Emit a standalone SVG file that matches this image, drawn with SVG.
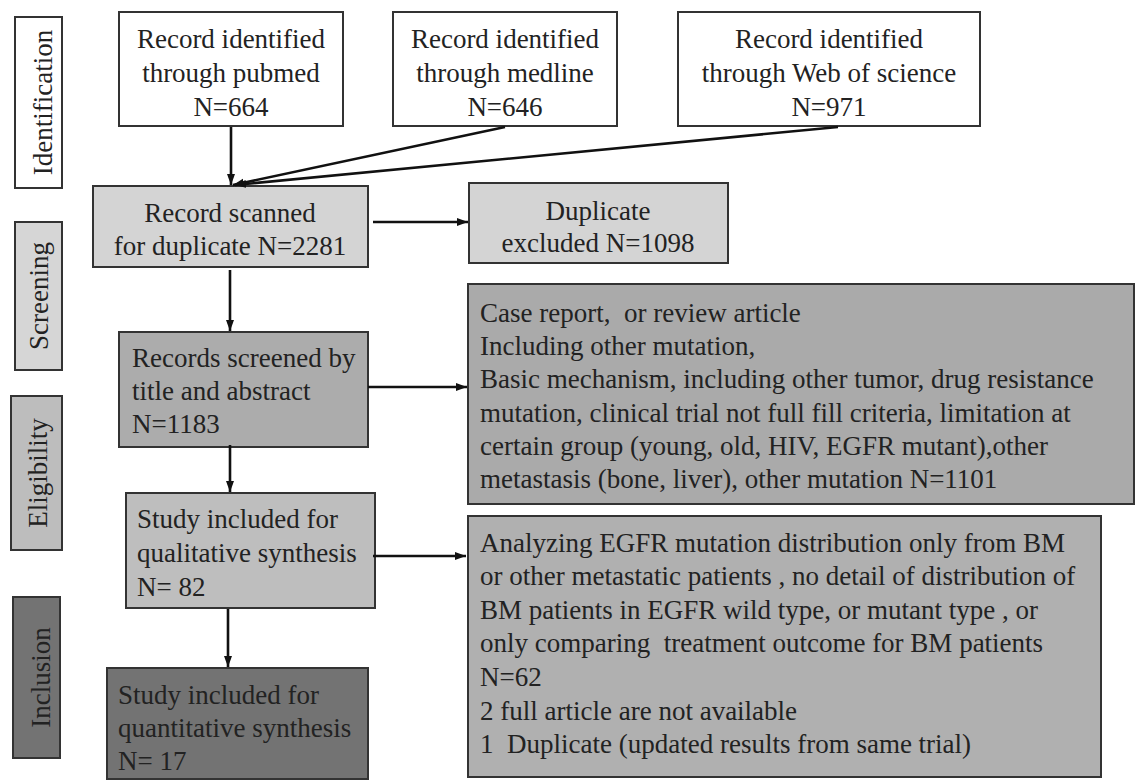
<svg xmlns="http://www.w3.org/2000/svg" width="1136" height="780" viewBox="0 0 1136 780" font-family="'Liberation Serif', serif">
<defs>
<style>
text{font-family:'Liberation Serif',serif}
.box{stroke:#333;stroke-width:2}
.t{font-size:27px;fill:#222}
.c{text-anchor:middle}
.conn{stroke:#111;stroke-width:2.6;fill:none;marker-end:url(#ah)}
</style>
<marker id="ah" markerWidth="12" markerHeight="10" refX="11" refY="5" orient="auto" markerUnits="userSpaceOnUse">
<path d="M0,1 L11,5 L0,9 Z" fill="#111"/>
</marker>
</defs>
<rect width="1136" height="780" fill="#fff"/>

<g id="label-identification">
<rect class="box" x="15" y="17" width="47" height="171" fill="#fff"/>
<text class="t c" transform="translate(52,102.5) rotate(-90)">Identification</text>
</g>
<g id="label-screening">
<rect class="box" x="15" y="222" width="47" height="148" fill="#d6d6d6"/>
<text class="t c" transform="translate(48,296) rotate(-90)">Screening</text>
</g>
<g id="label-eligibility">
<rect class="box" x="11" y="396" width="51" height="154" fill="#bdbdbd"/>
<text class="t c" transform="translate(47,473) rotate(-90)">Eligibility</text>
</g>
<g id="label-inclusion">
<rect class="box" x="13" y="597" width="47" height="161" fill="#737373"/>
<text class="t c" transform="translate(50,677.5) rotate(-90)">Inclusion</text>
</g>

<g id="node-pubmed">
<rect class="box" x="119" y="12" width="224" height="114" fill="#fff"/>
<text class="t c" x="231" y="48">Record identified</text>
<text class="t c" x="231" y="82">through pubmed</text>
<text class="t c" x="231" y="116">N=664</text>
</g>
<g id="node-medline">
<rect class="box" x="393" y="12" width="224" height="114" fill="#fff"/>
<text class="t c" x="505" y="48">Record identified</text>
<text class="t c" x="505" y="82">through medline</text>
<text class="t c" x="505" y="116">N=646</text>
</g>
<g id="node-wos">
<rect class="box" x="678" y="12" width="302" height="114" fill="#fff"/>
<text class="t c" x="829" y="48">Record identified</text>
<text class="t c" x="829" y="82">through Web of science</text>
<text class="t c" x="829" y="116">N=971</text>
</g>
<g id="node-scanned">
<rect class="box" x="93" y="186" width="275" height="81" fill="#d4d4d4"/>
<text class="t c" x="230" y="222">Record scanned</text>
<text class="t c" x="230" y="255">for duplicate N=2281</text>
</g>
<g id="node-duplicate">
<rect class="box" x="469" y="183" width="259" height="80" fill="#d4d4d4"/>
<text class="t c" x="598" y="220">Duplicate</text>
<text class="t c" x="598" y="252">excluded N=1098</text>
</g>
<g id="node-screened">
<rect class="box" x="119" y="332" width="249" height="115" fill="#acacac"/>
<text class="t" x="132" y="367">Records screened by</text>
<text class="t" x="132" y="400">title and abstract</text>
<text class="t" x="132" y="433">N=1183</text>
</g>
<g id="node-excluded1">
<rect class="box" x="468" y="284" width="666" height="220" fill="#aaaaaa"/>
<text class="t" x="480" y="322" xml:space="preserve">Case report,  or review article</text>
<text class="t" x="480" y="355">Including other mutation,</text>
<text class="t" x="480" y="388">Basic mechanism, including other tumor, drug resistance</text>
<text class="t" x="480" y="422">mutation, clinical trial not full fill criteria, limitation at</text>
<text class="t" x="480" y="455">certain group (young, old, HIV, EGFR mutant),other</text>
<text class="t" x="480" y="488">metastasis (bone, liver), other mutation N=1101</text>
</g>
<g id="node-qualitative">
<rect class="box" x="126" y="493" width="249" height="115" fill="#bebebe"/>
<text class="t" x="137" y="528">Study included for</text>
<text class="t" x="137" y="562">qualitative synthesis</text>
<text class="t" x="137" y="596" xml:space="preserve">N= 82</text>
</g>
<g id="node-excluded2">
<rect class="box" x="468" y="516" width="633" height="261" fill="#b0b0b0"/>
<text class="t" x="480" y="552">Analyzing EGFR mutation distribution only from BM</text>
<text class="t" x="480" y="585">or other metastatic patients , no detail of distribution of</text>
<text class="t" x="480" y="619">BM patients in EGFR wild type, or mutant type , or</text>
<text class="t" x="480" y="652" xml:space="preserve">only comparing  treatment outcome for BM patients</text>
<text class="t" x="480" y="686">N=62</text>
<text class="t" x="480" y="720">2 full article are not available</text>
<text class="t" x="480" y="753" xml:space="preserve">1  Duplicate (updated results from same trial)</text>
</g>
<g id="node-quantitative">
<rect class="box" x="107" y="668" width="261" height="111" fill="#737373"/>
<text class="t" x="118" y="704">Study included for</text>
<text class="t" x="118" y="737">quantitative synthesis</text>
<text class="t" x="118" y="770" xml:space="preserve">N= 17</text>
</g>

<g id="connectors">
<line class="conn" x1="231" y1="127" x2="231" y2="185"/>
<line class="conn" x1="505" y1="127" x2="233" y2="185"/>
<line class="conn" x1="838" y1="127" x2="235" y2="185"/>
<line class="conn" x1="373" y1="222" x2="468" y2="222"/>
<line class="conn" x1="230" y1="270" x2="230" y2="331"/>
<line class="conn" x1="368" y1="387" x2="467" y2="387"/>
<line class="conn" x1="230" y1="445" x2="230" y2="492"/>
<line class="conn" x1="373" y1="556" x2="466" y2="556"/>
<line class="conn" x1="228" y1="609" x2="228" y2="667"/>
</g>
</svg>
